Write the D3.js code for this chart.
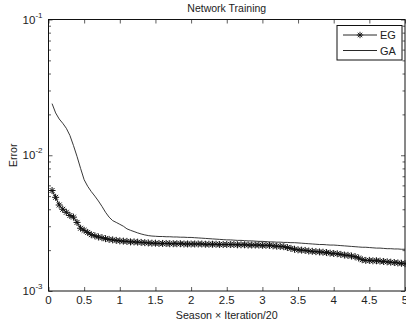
<!DOCTYPE html>
<html>
<head>
<meta charset="utf-8">
<script src="https://cdnjs.cloudflare.com/ajax/libs/d3/7.8.5/d3.min.js"></script>
<style>
  body { margin: 0; background: #fff; }
  svg text { fill: #222; }
</style>
</head>
<body>
<svg id="chart" width="406" height="325"></svg>
<script>
// x positions (season x iteration / 20)
const iters = d3.range(1, 101).map(i => i / 20);

// EG error per point
const egErr = [
  0.0055, 0.0049, 0.0043, 0.0040, 0.0038, 0.0036, 0.0035, 0.0032, 0.0029, 0.0028,
  0.0027, 0.0026, 0.00255, 0.0025, 0.00247, 0.00243, 0.0024, 0.00238, 0.00236, 0.00234,
  0.00233, 0.00232, 0.0023, 0.0023, 0.00229, 0.00228, 0.00227, 0.00226, 0.00225, 0.00225,
  0.00224, 0.00224, 0.00224, 0.00223, 0.00223, 0.00223, 0.00223, 0.00222, 0.00222, 0.00222,
  0.00222, 0.00222, 0.00222, 0.00221, 0.00221, 0.00221, 0.00221, 0.0022, 0.0022, 0.0022,
  0.0022, 0.0022, 0.00219, 0.00219, 0.00219, 0.00218, 0.00218, 0.00218, 0.00218, 0.00217,
  0.00217, 0.00217, 0.00215, 0.00214, 0.00213, 0.00212, 0.00209, 0.00206, 0.00203, 0.00201,
  0.002, 0.00199, 0.00197, 0.00196, 0.00195, 0.00194, 0.00193, 0.00192, 0.0019, 0.00189,
  0.00188, 0.00186, 0.00184, 0.00183, 0.00181, 0.00179, 0.00175, 0.0017, 0.00168, 0.00168,
  0.00167, 0.00167, 0.00166, 0.00165, 0.00164, 0.00163, 0.00162, 0.00161, 0.0016, 0.00159
];

// GA error per point
const gaErr = [
  0.0240, 0.0205, 0.0185, 0.0172, 0.0158, 0.0140, 0.0118, 0.0098, 0.0080, 0.0066,
  0.0059, 0.0054, 0.0050, 0.0046, 0.0042, 0.0038, 0.0035, 0.0033, 0.0032, 0.0031,
  0.0030, 0.00287, 0.0028, 0.00274, 0.00268, 0.00263, 0.00259, 0.00256, 0.00254, 0.00253,
  0.00252, 0.00252, 0.00251, 0.00251, 0.0025, 0.0025, 0.00249, 0.00249, 0.00248, 0.00248,
  0.00247, 0.00246, 0.00245, 0.00244, 0.00243, 0.00242, 0.00241, 0.0024, 0.00239, 0.00238,
  0.00238, 0.00237, 0.00236, 0.00236, 0.00235, 0.00234, 0.00234, 0.00233, 0.00232, 0.00232,
  0.00231, 0.0023, 0.0023, 0.00229, 0.00229, 0.00228, 0.00228, 0.00227, 0.00227, 0.00226,
  0.00225, 0.00224, 0.00223, 0.00222, 0.00221, 0.0022, 0.0022, 0.00219, 0.00218, 0.00218,
  0.00217, 0.00216, 0.00215, 0.00214, 0.00213, 0.00212, 0.00211, 0.0021, 0.0021, 0.00209,
  0.00208, 0.00207, 0.00207, 0.00206, 0.00205, 0.00205, 0.00204, 0.00204, 0.00203, 0.00203
];

const xTicks = d3.range(0, 11).map(i => i * 0.5);
const yDecades = [-3, -2, -1];

const svg = d3.select('#chart');
const pLeft = 48.5, pRight = 405, pTop = 19.5, pBottom = 291;

const x = d3.scaleLinear().domain([0, 5]).range([pLeft, pRight]);
const y = d3.scaleLog().domain([1e-3, 1e-1]).range([pBottom, pTop]);

const tickFont = '"Liberation Sans Narrow", "Liberation Sans", Arial, sans-serif';
const labelFont = '"Liberation Sans", Arial, sans-serif';

// minor log ticks 2..9 in each decade
let minor = [];
[1e-3, 1e-2].forEach(d => { for (let k = 2; k <= 9; k++) minor.push(d * k); });

const g = svg.append('g');

// inward ticks, bottom/top
g.append('g').attr('transform', `translate(0,${pBottom})`)
  .call(d3.axisBottom(x).tickValues(xTicks).tickSize(-4).tickFormat(''))
  .call(a => a.select('.domain').remove());
g.append('g').attr('transform', `translate(0,${pTop})`)
  .call(d3.axisTop(x).tickValues(xTicks).tickSize(-4).tickFormat(''))
  .call(a => a.select('.domain').remove());

// log ticks left/right
[[d3.axisLeft, pLeft], [d3.axisRight, pRight]].forEach(([ax, px]) => {
  g.append('g').attr('transform', `translate(${px},0)`)
    .call(ax(y).tickValues(minor).tickSize(-2.5).tickFormat(''))
    .call(a => a.select('.domain').remove());
  g.append('g').attr('transform', `translate(${px},0)`)
    .call(ax(y).tickValues(yDecades.map(e => Math.pow(10, e))).tickSize(-4).tickFormat(''))
    .call(a => a.select('.domain').remove());
});
g.selectAll('.tick line').attr('stroke', '#333').attr('stroke-width', 0.8);

// box
svg.append('rect').attr('x', pLeft).attr('y', pTop)
  .attr('width', pRight - pLeft).attr('height', pBottom - pTop)
  .attr('fill', 'none').attr('stroke', '#111').attr('stroke-width', 1);

// x tick labels
svg.append('g').selectAll('text').data(xTicks).join('text')
  .attr('x', d => x(d)).attr('y', pBottom + 13)
  .attr('text-anchor', 'middle')
  .style('font-family', tickFont).style('font-size', '11.5px')
  .text(d => d3.format('~g')(d));

// y tick labels: 10^e
const yl = svg.append('g').selectAll('text').data(yDecades).join('text')
  .attr('x', pLeft - 6).attr('y', d => y(Math.pow(10, d)) + 4)
  .attr('text-anchor', 'end')
  .style('font-family', tickFont).style('font-size', '11.5px');
yl.append('tspan').text('10');
yl.append('tspan').attr('dy', -6).style('font-size', '8px').text(d => String(d));

// lines
const line = d3.line().x(d => x(d[0])).y(d => y(d[1]));
const gaPts = iters.map((t, i) => [t, gaErr[i]]);
const egPts = iters.map((t, i) => [t, egErr[i]]);

svg.append('path').datum(gaPts).attr('d', line)
  .attr('fill', 'none').attr('stroke', '#222').attr('stroke-width', 0.9);
svg.append('path').datum(egPts).attr('d', line)
  .attr('fill', 'none').attr('stroke', '#000').attr('stroke-width', 1);

const star = (cx, cy, r) => {
  const q = r * 0.7;
  return `M${cx - r},${cy}H${cx + r}M${cx},${cy - r}V${cy + r}` +
    `M${cx - q},${cy - q}L${cx + q},${cy + q}M${cx - q},${cy + q}L${cx + q},${cy - q}`;
};
svg.append('g').selectAll('path').data(egPts).join('path')
  .attr('d', d => star(x(d[0]), y(d[1]), 3.5))
  .attr('fill', 'none').attr('stroke', '#111').attr('stroke-width', 1);

// title / axis labels
svg.append('text').attr('x', (pLeft + pRight) / 2).attr('y', 12)
  .attr('text-anchor', 'middle')
  .style('font-family', labelFont).style('font-size', '10.5px')
  .text('Network Training');
svg.append('text').attr('x', (pLeft + pRight) / 2).attr('y', 319)
  .attr('text-anchor', 'middle')
  .style('font-family', labelFont).style('font-size', '10.7px')
  .text('Season \u00d7 Iteration/20');
svg.append('text').attr('transform', `translate(17,${(pTop + pBottom) / 2}) rotate(-90)`)
  .attr('text-anchor', 'middle')
  .style('font-family', labelFont).style('font-size', '10.5px')
  .text('Error');

// legend
const lg = svg.append('g');
lg.append('rect').attr('x', 337).attr('y', 25.5).attr('width', 65).attr('height', 34.5)
  .attr('fill', '#fff').attr('stroke', '#111').attr('stroke-width', 1);
const series = ['EG', 'GA'];
series.forEach((name, i) => {
  const ly = 35 + i * 15.5;
  lg.append('line').attr('x1', 343).attr('x2', 377).attr('y1', ly).attr('y2', ly)
    .attr('stroke', '#111').attr('stroke-width', 0.9);
  if (name === 'EG') {
    lg.append('path').attr('d', star(360, ly, 3.2))
      .attr('fill', 'none').attr('stroke', '#111').attr('stroke-width', 0.9);
  }
  lg.append('text').attr('x', 380).attr('y', ly + 4)
    .style('font-family', labelFont).style('font-size', '11px')
    .text(name);
});
</script>
</body>
</html>
